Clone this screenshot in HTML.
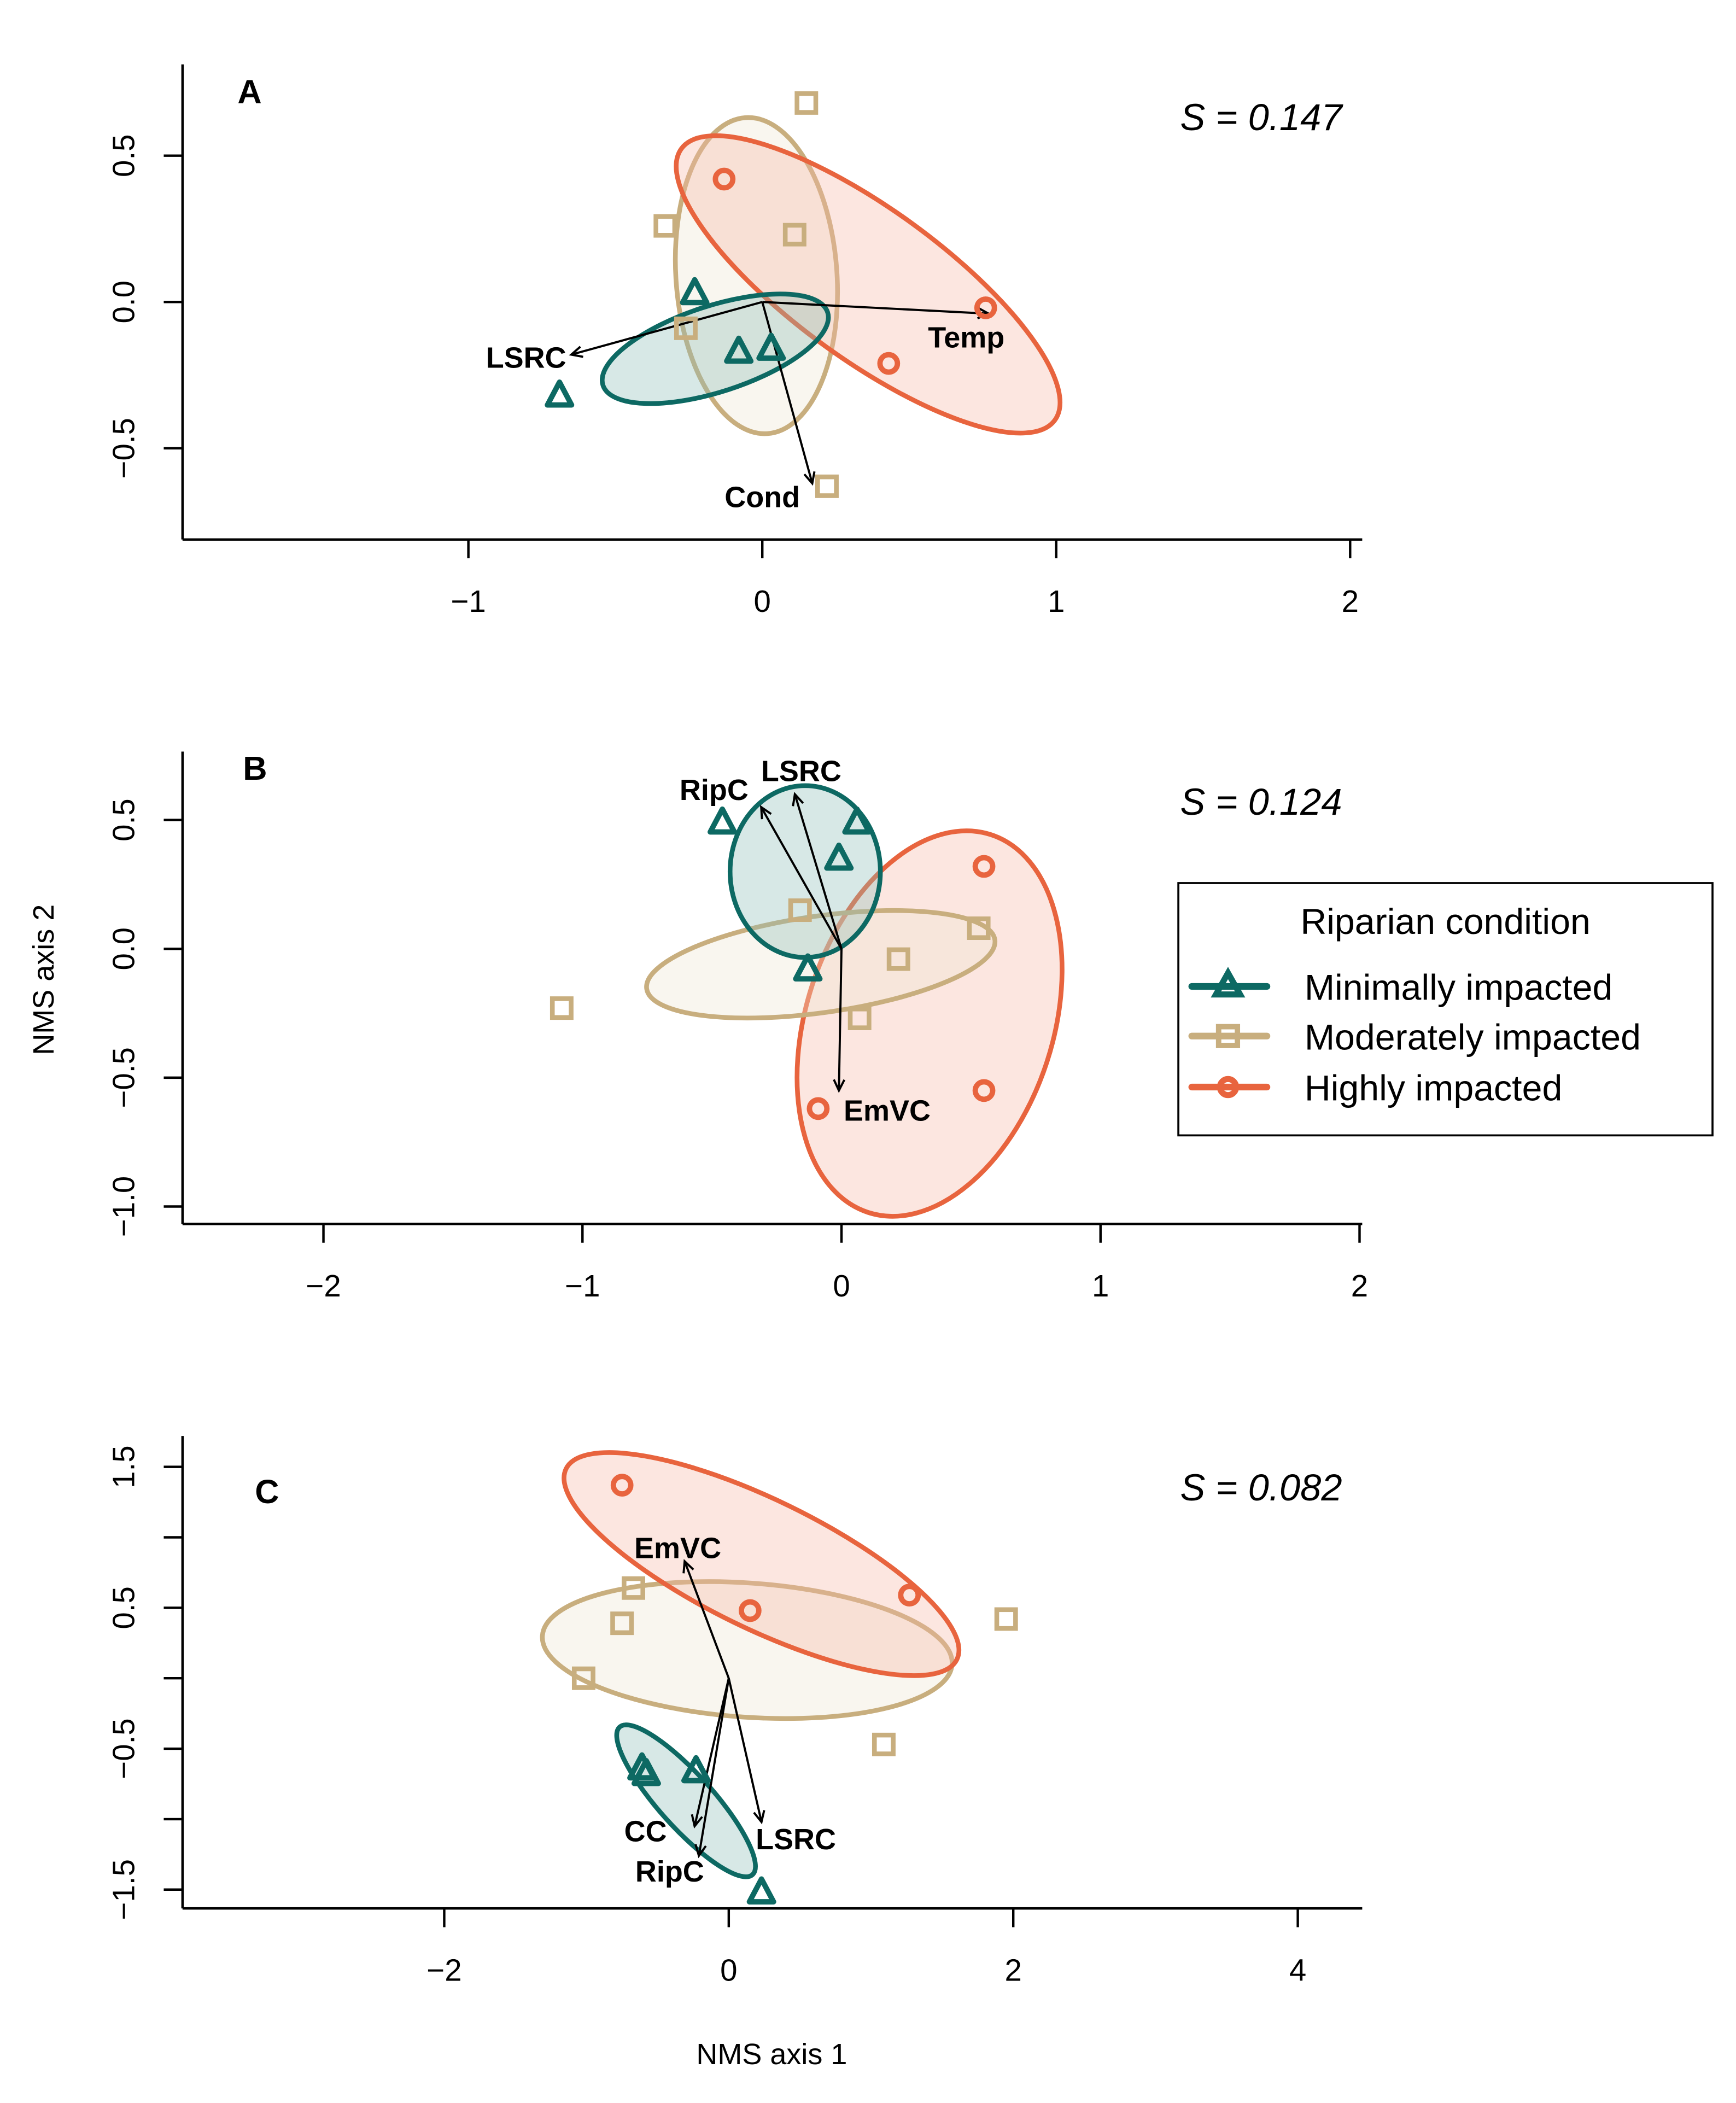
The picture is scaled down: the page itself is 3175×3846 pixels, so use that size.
<!DOCTYPE html>
<html><head><meta charset="utf-8"><style>
html,body{margin:0;padding:0;background:#fff;}
svg{display:block;}
text{font-family:"Liberation Sans","DejaVu Sans",sans-serif;}
</style></head><body>
<svg id="fig" width="3175" height="3846" viewBox="0 0 1293.5 1567" preserveAspectRatio="none" xmlns="http://www.w3.org/2000/svg">
<text x="0" y="0" font-size="22" text-anchor="middle" transform="translate(40,730) rotate(-90)">NMS axis 2</text>
<text x="575" y="1538" font-size="22" text-anchor="middle">NMS axis 1</text>
<g>
<rect x="878" y="658" width="398" height="188" fill="#fff" stroke="#000" stroke-width="1.5"/>
<text x="1077" y="696" font-size="27" text-anchor="middle">Riparian condition</text>
<g>
<line x1="888" y1="735" x2="944" y2="735" stroke="#0d6963" stroke-width="5" stroke-linecap="round"/>
<polygon points="915,725 906,741 924,741" fill="none" stroke="#0d6963" stroke-width="4.5"/>
<text x="972" y="745" font-size="27">Minimally impacted</text></g>
<g>
<line x1="888" y1="772" x2="944" y2="772" stroke="#c8ae7e" stroke-width="5" stroke-linecap="round"/>
<rect x="908" y="765" width="14" height="14" fill="none" stroke="#c8ae7e" stroke-width="4"/>
<text x="972" y="782" font-size="27">Moderately impacted</text></g>
<g>
<line x1="888" y1="810" x2="944" y2="810" stroke="#e8643e" stroke-width="5" stroke-linecap="round"/>
<circle cx="915" cy="810" r="6" fill="none" stroke="#e8643e" stroke-width="4.5"/>
<text x="972" y="820" font-size="27">Highly impacted</text></g>
</g>
</svg>
<script>
// ---- Panel A data ----
const aTriX=[-0.23,-0.08,0.03,-0.69];
const aTriY=[0.03,-0.17,-0.16,-0.32];
const aSqX=[0.15,-0.33,0.11,-0.26,0.22];
const aSqY=[0.68,0.26,0.23,-0.09,-0.63];
const aCirX=[-0.13,0.76,0.43];
const aCirY=[0.42,-0.02,-0.21];
const aVecNames=["LSRC","Temp","Cond"];
const aVecX=[-0.65,0.77,0.17];
const aVecY=[-0.18,-0.04,-0.62];
const aXTicks=[-1,0,1,2];
const aYTicks=[0.5,0,-0.5];
const aYLabels=["0.5","0.0","\u22120.5"];
// ---- Panel B data ----
const bTriX=[-0.46,0.06,-0.01,-0.13];
const bTriY=[0.49,0.49,0.35,-0.08];
const bSqX=[-0.16,0.53,0.22,0.07,-1.08];
const bSqY=[0.15,0.08,-0.04,-0.27,-0.23];
const bCirX=[0.55,0.55,-0.09];
const bCirY=[0.32,-0.55,-0.62];
const bVecNames=["RipC","LSRC","EmVC"];
const bVecX=[-0.31,-0.18,-0.01];
const bVecY=[0.55,0.6,-0.55];
const bXTicks=[-2,-1,0,1,2];
const bYTicks=[0.5,0,-0.5,-1];
const bYLabels=["0.5","0.0","\u22120.5","\u22121.0"];
// ---- Panel C data ----
const cTriX=[-0.61,-0.58,-0.23,0.23];
const cTriY=[-0.64,-0.68,-0.66,-1.52];
const cSqX=[-0.67,-0.75,-1.02,1.09,1.95];
const cSqY=[0.64,0.39,0.0,-0.47,0.42];
const cCirX=[-0.75,0.15,1.27];
const cCirY=[1.37,0.48,0.59];
const cVecNames=["EmVC","CC","RipC","LSRC"];
const cVecX=[-0.31,-0.24,-0.21,0.23];
const cVecY=[0.83,-1.05,-1.26,-1.02];
const cXTicks=[-2,0,2,4];
const cYTicks=[1.5,1,0.5,0,-0.5,-1,-1.5];
const cYLabels=["1.5","","0.5","","\u22120.5","","\u22121.5"];

const NS="http://www.w3.org/2000/svg";
const svg=document.getElementById('fig');
const TEAL="#0d6963",TAN="#c8ae7e",RED="#e8643e";
function mk(tag,attrs,parent){const e=document.createElementNS(NS,tag);for(const k in attrs)e.setAttribute(k,attrs[k]);(parent||svg).appendChild(e);return e;}

function panel(cfg){
  const g=mk('g',{});
  
  
  const sx=v=>cfg.x0+v*cfg.kx, sy=v=>cfg.y0-v*cfg.ky;
  const eg=mk('g',{},g);
  cfg.ell.forEach(e=>{
    const el=mk('ellipse',{cx:0,cy:0,rx:e.rx,ry:e.ry,fill:e.fill,'fill-opacity':0.35,stroke:e.col,'stroke-width':3.5,transform:`translate(${sx(e.cx)},${sy(e.cy)}) rotate(${e.rot})`},eg);
    
    
  });
  const ax=mk('g',{stroke:'#000','stroke-width':1.8,fill:'none'},g);
  
  
  mk('line',{x1:136,y1:cfg.top,x2:136,y2:cfg.bottom},ax);
  mk('line',{x1:136,y1:cfg.bottom,x2:1015,y2:cfg.bottom},ax);
  cfg.xt.forEach(t=>{
    mk('line',{x1:sx(t),y1:cfg.bottom,x2:sx(t),y2:cfg.bottom+14},ax);
    const tx=mk('text',{x:sx(t),y:cfg.bottom+54,'font-size':23,'text-anchor':'middle'},g);
    tx.textContent=(t<0?'\u2212':'')+Math.abs(t);
    
    
  });
  cfg.yt.forEach((t,i)=>{
    mk('line',{x1:122,y1:sy(t),x2:136,y2:sy(t)},ax);
    if(cfg.yl[i]){
      const tx=mk('text',{x:0,y:0,'font-size':23,'text-anchor':'middle',transform:`translate(100,${sy(t)}) rotate(-90)`},g);
      tx.textContent=cfg.yl[i];
      
      
    }
  });
  const vg=mk('g',{stroke:'#000','stroke-width':1.6,fill:'none'},g);
  cfg.vx.forEach((v,i)=>{
    const x1=sx(0),y1=sy(0),x2=sx(v),y2=sy(cfg.vy[i]);
    const l=mk('line',{x1,y1,x2,y2},vg);
    
    
    const a=Math.atan2(y2-y1,x2-x1),h=9;
    mk('polyline',{points:`${x2-h*Math.cos(a-0.45)},${y2-h*Math.sin(a-0.45)} ${x2},${y2} ${x2-h*Math.cos(a+0.45)},${y2-h*Math.sin(a+0.45)}`},vg);
    const lb=cfg.lab[i];
    const t=mk('text',{x:lb[0],y:lb[1],'font-size':22,'font-weight':'bold','text-anchor':lb[2]||'middle'},g);
    t.textContent=cfg.vn[i];
    
    
  });
  cfg.sqx.forEach((v,i)=>{const x=sx(v),y=sy(cfg.sqy[i]);
    const p=mk('rect',{x:x-7,y:y-7,width:14,height:14,fill:'none',stroke:TAN,'stroke-width':3.5},g);
    
    });
  cfg.cx.forEach((v,i)=>{const x=sx(v),y=sy(cfg.cy[i]);
    const p=mk('circle',{cx:x,cy:y,r:6.5,fill:'none',stroke:RED,'stroke-width':4},g);
    
    });
  cfg.tx.forEach((v,i)=>{const x=sx(v),y=sy(cfg.ty[i]);
    const p=mk('polygon',{points:`${x},${y-10} ${x-9},${y+7} ${x+9},${y+7}`,fill:'none',stroke:TEAL,'stroke-width':4,'stroke-linejoin':'round'},g);
    
    });
  const L=mk('text',{x:cfg.letter[0],y:cfg.letter[1],'font-size':25,'font-weight':'bold','text-anchor':'middle'},g);
  L.textContent=cfg.id;
  
  
  const S=mk('text',{x:1000,y:cfg.sy,'font-size':28,'font-style':'italic','text-anchor':'end'},g);
  S.textContent='S = '+cfg.stress;
  
  
}

panel({id:'A',x0:568,kx:219,y0:225,ky:218,top:48,bottom:402,xt:aXTicks,yt:aYTicks,yl:aYLabels,
  tx:aTriX,ty:aTriY,sqx:aSqX,sqy:aSqY,cx:aCirX,cy:aCirY,vx:aVecX,vy:aVecY,vn:aVecNames,
  lab:[[392,274],[720,259],[568,378]],letter:[186,77],sy:97,stress:'0.147',
  ell:[{name:'moderate',cx:-0.02,cy:0.09,rx:60,ry:118,rot:-4,col:TAN,fill:'#eee5d0'},
       {name:'high',cx:0.36,cy:0.06,rx:172,ry:56,rot:36,col:RED,fill:'#f6b7a6'},
       {name:'minimal',cx:-0.16,cy:-0.16,rx:88,ry:32,rot:-18,col:TEAL,fill:'#8bbcb8'}]});
panel({id:'B',x0:627,kx:193,y0:707,ky:192,top:560,bottom:912,xt:bXTicks,yt:bYTicks,yl:bYLabels,
  tx:bTriX,ty:bTriY,sqx:bSqX,sqy:bSqY,cx:bCirX,cy:bCirY,vx:bVecX,vy:bVecY,vn:bVecNames,
  lab:[[532,596],[597,582],[661,835]],letter:[190,581],sy:607,stress:'0.124',
  ell:[{name:'high',cx:0.34,cy:-0.29,rx:92,ry:148,rot:18,col:RED,fill:'#f6b7a6'},
       {name:'moderate',cx:-0.08,cy:-0.06,rx:131,ry:36,rot:-8,col:TAN,fill:'#eee5d0'},
       {name:'minimal',cx:-0.14,cy:0.3,rx:56,ry:64,rot:0,col:TEAL,fill:'#8bbcb8'}]});
panel({id:'C',x0:543,kx:106,y0:1250.5,ky:105,top:1070,bottom:1422,xt:cXTicks,yt:cYTicks,yl:cYLabels,
  tx:cTriX,ty:cTriY,sqx:cSqX,sqy:cSqY,cx:cCirX,cy:cCirY,vx:cVecX,vy:cVecY,vn:cVecNames,
  lab:[[505,1161],[481,1372],[499,1402],[593,1378]],letter:[199,1120],sy:1118,stress:'0.082',
  ell:[{name:'moderate',cx:0.13,cy:0.2,rx:153,ry:50,rot:4,col:TAN,fill:'#eee5d0'},
       {name:'high',cx:0.23,cy:0.81,rx:162,ry:48,rot:26,col:RED,fill:'#f6b7a6'},
       {name:'minimal',cx:-0.3,cy:-0.87,rx:74,ry:20,rot:48,col:TEAL,fill:'#8bbcb8'}]});
</script>
</body></html>
